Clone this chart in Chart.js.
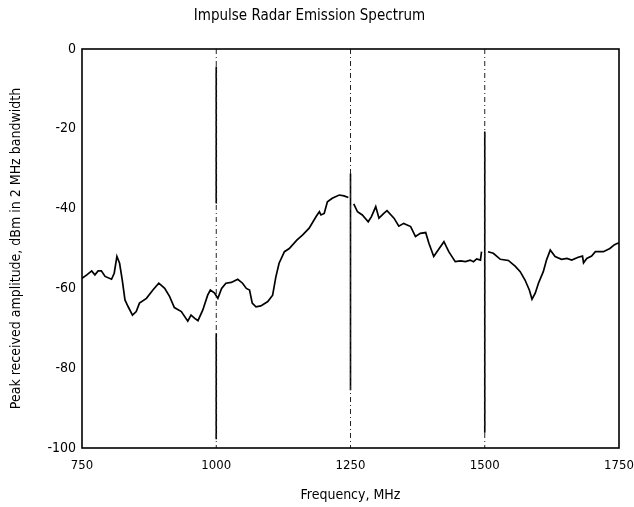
<!DOCTYPE html>
<html lang="en">
<head>
  <meta charset="UTF-8" />
  <title>Impulse Radar Emission Spectrum</title>
  <script src="https://cdn.jsdelivr.net/npm/chart.js"></script>
  <style>
    html, body { margin: 0; padding: 0; background: #fff; }
    #wrap { width: 634px; height: 507px; }
  </style>
</head>
<body>
  <div id="wrap"><canvas id="spectrum" width="634" height="507"></canvas></div>

  <script>
    // spectrum trace, MHz / dBm (null = break in the trace at the marker lines)
    const freq = [750, 759, 768, 774, 780, 786, 793, 805, 810, 815, 820, 825, 830, 836, 844, 851, 857, 870, 882, 893,
      904, 913, 922, 935, 947, 953, 960, 966, 975, 984, 989, 997, 1003, 1010, 1018, 1028, 1040, 1049, 1056, 1062,
      1067, 1074, 1083, 1096, 1105, 1111, 1117, 1127, 1136, 1150, 1161, 1173, 1186, 1192, 1195, 1201, 1207, 1216,
      1229, 1238, 1246, 1250, 1256, 1263, 1272, 1283, 1289, 1297, 1303, 1312, 1318, 1331, 1340, 1349, 1362, 1371,
      1380, 1390, 1396, 1405, 1411, 1424, 1433, 1445, 1455, 1464, 1473, 1479, 1485, 1492, 1494, 1500, 1506, 1516,
      1529, 1544, 1557, 1566, 1575, 1583, 1588, 1594, 1600, 1609, 1615, 1622, 1631, 1643, 1653, 1662, 1674, 1682,
      1684, 1690, 1699, 1706, 1721, 1733, 1741, 1747, 1750];
    const amp = [-57.5, -56.6, -55.6, -56.6, -55.6, -55.6, -57, -57.7, -56.2, -52, -53.7, -57.9, -62.9, -64.6, -66.7,
      -65.8, -63.7, -62.5, -60.4, -58.7, -60, -62, -64.8, -65.8, -68.2, -66.7, -67.5, -68.1, -65.4, -61.7, -60.4,
      -61.2, -62.5, -60, -58.7, -58.5, -57.7, -58.7, -60, -60.4, -63.7, -64.6, -64.4, -63.3, -61.7, -57.1, -53.7,
      -50.8, -50, -47.9, -46.6, -44.9, -42, -40.8, -41.6, -41.2, -38.3, -37.4, -36.6, -36.8, -37.2, null, -38.8,
      -40.8, -41.6, -43.3, -42, -39.5, -42.4, -41.2, -40.5, -42.4, -44.4, -43.7, -44.5, -47, -46.2, -46, -48.7,
      -52, -50.8, -48.3, -50.8, -53.3, -53.1, -53.3, -52.9, -53.3, -52.6, -52.9, -50.8, null, -50.8, -51.2, -52.7,
      -53, -54.5, -55.8, -57.9, -60.4, -62.7, -61.2, -58.7, -55.8, -52.9, -50.4, -52, -52.7, -52.5, -52.9, -52.2,
      -51.9, -53.6, -52.5, -51.9, -50.8, -50.8, -50, -49.1, -48.7, -48.7];

    // marker lines at harmonics: frequency, and the solid parts [top, bottom] in dBm
    const markerFreqs = [1000, 1250, 1500];
    const markerSolid = [
      [1000, -4.4, -38.7],
      [1000, -71.3, -97.8],
      [1250, -31.2, -85.5],
      [1500, -20.7, -96.2]
    ];

    const xTicks = [750, 1000, 1250, 1500, 1750];
    const yTicks = [0, -20, -40, -60, -80, -100];

    const FONT = "'DejaVu Sans Condensed', 'Liberation Sans', Arial, sans-serif";

    const datasets = [];
    markerFreqs.forEach(f => {
      datasets.push({
        data: [{ x: f, y: 0 }, { x: f, y: -100 }],
        borderColor: '#222',
        borderWidth: 1,
        borderDash: [5, 3, 1, 3],
        pointRadius: 0
      });
    });
    markerSolid.forEach(s => {
      datasets.push({
        data: [{ x: s[0], y: s[1] }, { x: s[0], y: s[2] }],
        borderColor: '#000',
        borderWidth: 1.6,
        pointRadius: 0
      });
    });
    datasets.push({
      data: freq.map((f, i) => ({ x: f, y: amp[i] })),
      borderColor: '#000',
      borderWidth: 1.7,
      pointRadius: 0,
      spanGaps: false,
      tension: 0
    });

    // frame round the plot area
    const frame = {
      id: 'frame',
      afterDatasetsDraw(chart) {
        const a = chart.chartArea, c = chart.ctx;
        c.save();
        c.strokeStyle = '#000';
        c.lineWidth = 1.6;
        c.strokeRect(a.left, a.top, a.right - a.left, a.bottom - a.top);
        c.restore();
      }
    };

    new Chart(document.getElementById('spectrum'), {
      type: 'line',
      data: { datasets },
      plugins: [frame],
      options: {
        responsive: false,
        animation: false,
        layout: { padding: { left: 0, right: 15, top: 0, bottom: 0 } },
        plugins: {
          legend: { display: false },
          tooltip: { enabled: false },
          title: {
            display: true,
            text: 'Impulse Radar Emission Spectrum',
            color: '#000',
            font: { family: FONT, size: 15, weight: 'normal' },
            padding: { top: 7, bottom: 24 }
          }
        },
        scales: {
          x: {
            type: 'linear',
            min: 750,
            max: 1750,
            afterBuildTicks: s => { s.ticks = xTicks.map(v => ({ value: v })); },
            afterFit: s => { s.height = 59; s.paddingLeft = 0; s.paddingRight = 0; },
            grid: { display: false, drawTicks: false },
            border: { display: false },
            ticks: { color: '#000', font: { family: FONT, size: 13 }, padding: 10, maxRotation: 0, callback: v => String(v) },
            title: {
              display: true,
              text: 'Frequency, MHz',
              color: '#000',
              font: { family: FONT, size: 14 },
              padding: { top: 0, bottom: 3 }
            }
          },
          y: {
            min: -100,
            max: 0,
            afterBuildTicks: s => { s.ticks = yTicks.map(v => ({ value: v })); },
            afterFit: s => { s.width = 82; },
            grid: { display: false, drawTicks: false },
            border: { display: false },
            ticks: { color: '#000', font: { family: FONT, size: 14 }, padding: 6, callback: v => String(v) },
            title: {
              display: true,
              text: 'Peak received amplitude, dBm in 2 MHz bandwidth',
              color: '#000',
              font: { family: FONT, size: 14 },
              padding: { top: 8, bottom: 0 }
            }
          }
        }
      }
    });
  </script>
</body>
</html>
